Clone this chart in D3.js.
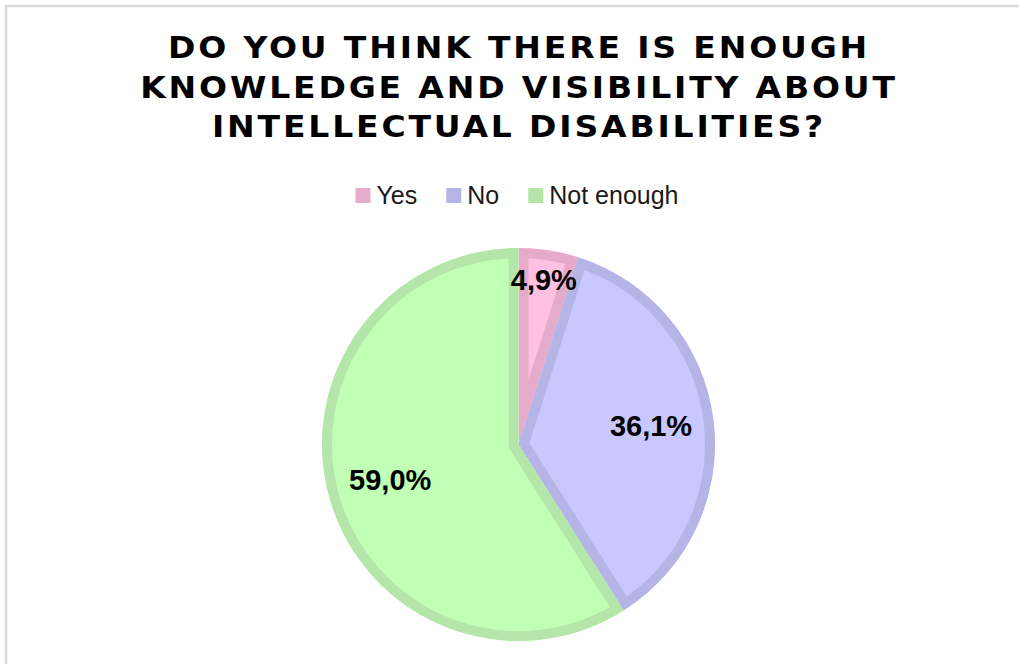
<!DOCTYPE html>
<html>
<head>
<meta charset="utf-8">
<script src="https://cdn.jsdelivr.net/npm/d3@7"></script>
<style>
  body { margin: 0; background: #fff; }
  svg { display: block; }
</style>
</head>
<body>
<div id="container"></div>
<script>
var categories = ["Yes", "No", "Not enough"];
var shares = [4.9, 36.1, 59.0];
var fills = ["#ffc0e2", "#c8c8ff", "#c0ffb5"];
var borders = ["#e6aacb", "#b4b4e6", "#b4e6aa"];
var titleLines = ["DO YOU THINK THERE IS ENOUGH", "KNOWLEDGE AND VISIBILITY ABOUT", "INTELLECTUAL DISABILITIES?"];

var w = 1019, h = 664;
var cx = 518.5, cy = 444.5, radius = 196.5, borderW = 10;

var svg = d3.select("#container")
  .append("svg")
  .attr("width", w)
  .attr("height", h);

// chart frame, runs off the right and bottom edge
svg.append("rect")
  .attr("x", 6).attr("y", 6)
  .attr("width", w + 20).attr("height", h + 20)
  .attr("fill", "#fff")
  .attr("stroke", "#d9d9d9")
  .attr("stroke-width", 2.5);

// title (glyphs a bit wider than DejaVu, so stretch horizontally)
svg.append("g")
  .attr("transform", "translate(519,0) scale(1.1,1)")
  .selectAll("text")
  .data(titleLines)
  .enter()
  .append("text")
  .attr("x", 0)
  .attr("y", function(d, i) { return 58.5 + i * 39.3; })
  .attr("text-anchor", "middle")
  .attr("font-family", "DejaVu Sans, Verdana, sans-serif")
  .attr("font-weight", "bold")
  .attr("font-size", 30)
  .attr("letter-spacing", 2.6)
  .attr("fill", "#000")
  .text(function(d) { return d; });

// legend
var legend = svg.append("g");
var lx = 0;
var items = legend.selectAll("g")
  .data(categories)
  .enter()
  .append("g");
items.append("rect")
  .attr("y", 188)
  .attr("width", 15).attr("height", 15)
  .attr("fill", function(d, i) { return borders[i]; });
items.append("text")
  .attr("x", 21)
  .attr("y", 204)
  .attr("font-family", "Liberation Sans, Arial, sans-serif")
  .attr("font-size", 25)
  .attr("fill", "#1a1a1a")
  .text(function(d) { return d; });
items.each(function() {
  var g = d3.select(this);
  g.attr("transform", "translate(" + lx + ",0)");
  lx += 21 + g.select("text").node().getComputedTextLength() + 29;
});
lx -= 29;
legend.attr("transform", "translate(" + (517 - lx / 2) + ",0)");

// pie
var pie = d3.pie().sort(null).value(function(d) { return d; });
var arc = d3.arc().innerRadius(0).outerRadius(radius);
var slices = pie(shares);

var pieG = svg.append("g").attr("transform", "translate(" + cx + "," + cy + ")");
var defs = svg.append("defs");
defs.selectAll("clipPath")
  .data(slices)
  .enter()
  .append("clipPath")
  .attr("id", function(d, i) { return "clip" + i; })
  .append("path")
  .attr("d", arc);

pieG.selectAll("path")
  .data(slices)
  .enter()
  .append("path")
  .attr("d", arc)
  .attr("fill", function(d, i) { return fills[i]; })
  .attr("stroke", function(d, i) { return borders[i]; })
  .attr("stroke-width", borderW * 2)
  .attr("stroke-linejoin", "miter")
  .attr("clip-path", function(d, i) { return "url(#clip" + i + ")"; });

// data labels
var fmt = function(v) { return v.toFixed(1).replace(".", ",") + "%"; };
pieG.selectAll("text")
  .data(slices)
  .enter()
  .append("text")
  .attr("transform", function(d) {
    var r = (d.endAngle - d.startAngle) < 0.5 ? radius * 0.84 : radius * 0.68;
    var a = (d.startAngle + d.endAngle) / 2;
    return "translate(" + (r * Math.sin(a)) + "," + (-r * Math.cos(a) - 2) + ")";
  })
  .attr("dy", "0.36em")
  .attr("text-anchor", "middle")
  .attr("font-family", "Liberation Sans, Arial, sans-serif")
  .attr("font-weight", "bold")
  .attr("font-size", 29)
  .attr("fill", "#000")
  .text(function(d) { return fmt(d.data); });
</script>
</body>
</html>
